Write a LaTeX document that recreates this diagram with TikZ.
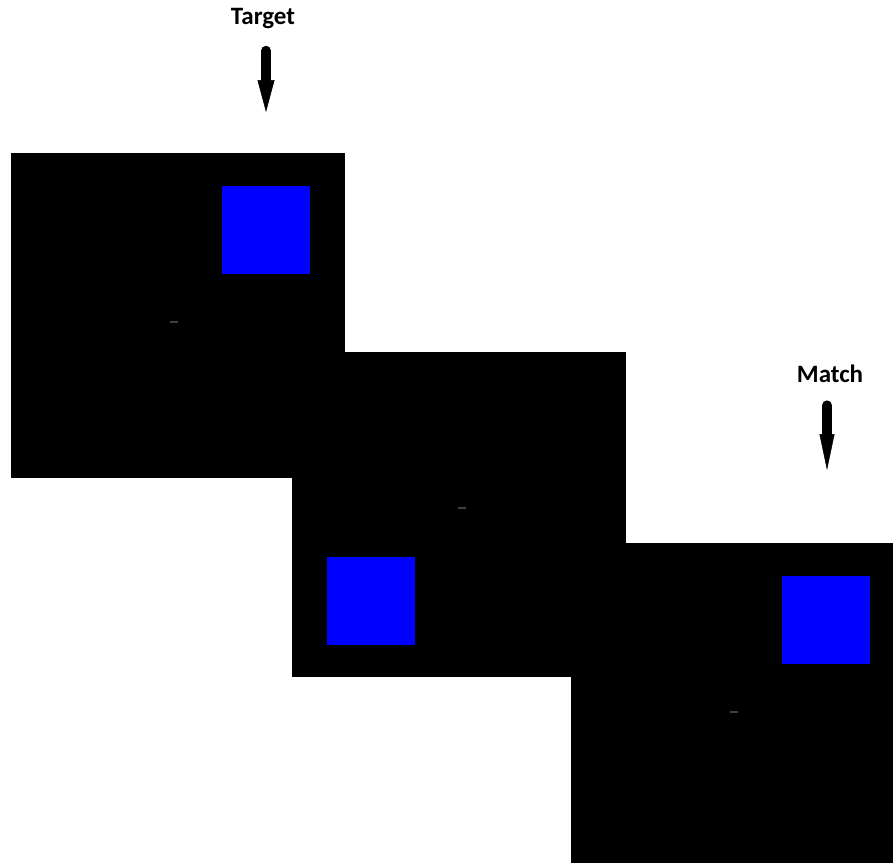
\documentclass[tikz,border=0pt]{standalone}
\usepackage{fontspec}
\setmainfont{Carlito}
\usetikzlibrary{arrows.meta, positioning}

\tikzset{
    screen/.style={fill=black, inner sep=0pt, anchor=north west, minimum width=334pt, minimum height=325pt},
    cue/.style={fill=blue, inner sep=0pt, anchor=north west, minimum size=88pt},
    fixdash/.style={draw=black!75, line width=1.2pt},
    cuelabel/.style={font=\fontsize{25}{25}\selectfont\bfseries},
    cuearrow/.style={line width=10pt, line cap=round, -{Triangle[length=32pt, width=17pt, line width=0.5pt]}}
}

\begin{document}
\begin{tikzpicture}[x=1pt, y=-1pt]
            \useasboundingbox (0,0) rectangle (893,863);
            % three screens
            \node[screen] (screen1) at (11,153) {};
            \node[screen] (screen2) at (292,352) {};
            \node[screen, minimum width=322pt, minimum height=320pt] (screen3) at (571,543) {};
            % blue squares
            \node[cue] (cue1) at (222,186) {};
            \node[cue] (cue2) at (327,557) {};
            \node[cue] (cue3) at (782,576) {};
            % fixation marks
            \draw[fixdash] (170,322) -- (178,322);
            \draw[fixdash] (458,508) -- (466,508);
            \draw[fixdash] (730,712) -- (738,712);
            % labels and arrows
            \node[cuelabel] (target) at (263,19) {Target};
            \coordinate (target-tip) at (266,112);
            \draw[cuearrow, shorten <=18pt] (target.south -| target-tip) -- (target-tip);
            \node[cuelabel] (match) at (830,374) {Match};
            \coordinate (match-tip) at (827,470);
            \draw[cuearrow, shorten <=19pt, -{Triangle[length=36pt, width=15pt, line width=0.5pt]}] (match.south -| match-tip) -- (match-tip);
        \end{tikzpicture}
\end{document}
